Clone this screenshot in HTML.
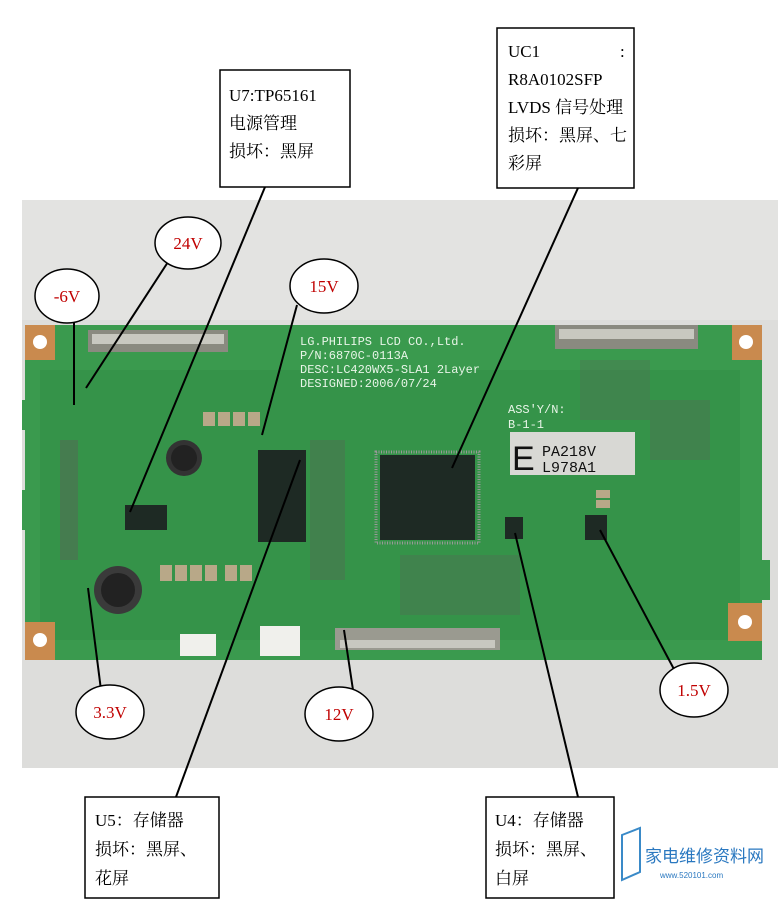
<!DOCTYPE html>
<html><head><meta charset="utf-8"><style>
html,body{margin:0;padding:0;background:#fff;}
body{width:780px;height:902px;overflow:hidden;}
</style></head><body>
<svg width="780" height="902" viewBox="0 0 780 902" xmlns="http://www.w3.org/2000/svg" font-family="Liberation Serif, Noto Serif CJK SC, serif">
<rect width="780" height="902" fill="#fff"/>
<!-- photo background -->
<rect x="22" y="200" width="756" height="568" fill="#dddddb"/>
<rect x="22" y="200" width="756" height="120" fill="#e3e3e1"/>
<!-- PCB -->
<path d="M25 325 H762 V560 H770 V600 H762 V660 H25 V530 H22 V490 H25 V430 H22 V400 H25 Z" fill="#3a9a4e"/>
<rect x="40" y="370" width="700" height="270" fill="#2f8c44" opacity="0.5"/>
<!-- corner pads -->
<rect x="25" y="325" width="30" height="35" fill="#c98a4e"/><circle cx="40" cy="342" r="7" fill="#fff"/>
<rect x="732" y="325" width="30" height="35" fill="#c98a4e"/><circle cx="746" cy="342" r="7" fill="#fff"/>
<rect x="25" y="622" width="30" height="38" fill="#c98a4e"/><circle cx="40" cy="640" r="7" fill="#fff"/>
<rect x="728" y="603" width="34" height="38" fill="#c98a4e"/><circle cx="745" cy="622" r="7" fill="#fff"/>
<!-- connectors -->
<rect x="88" y="330" width="140" height="22" fill="#8a8a80"/><rect x="92" y="334" width="132" height="10" fill="#c8c8c0"/>
<rect x="555" y="325" width="143" height="24" fill="#8a8a80"/><rect x="559" y="329" width="135" height="10" fill="#c8c8c0"/>
<rect x="335" y="628" width="165" height="22" fill="#9a9a90"/><rect x="340" y="640" width="155" height="8" fill="#c8c8c0"/>
<rect x="260" y="626" width="40" height="30" fill="#f0f0ec"/>
<rect x="180" y="634" width="36" height="22" fill="#f0f0ec"/>
<!-- texts on PCB -->
<g fill="#e8f5e8" font-family="Liberation Mono, monospace" font-size="12">
<text x="300" y="345">LG.PHILIPS LCD CO.,Ltd.</text>
<text x="300" y="359">P/N:6870C-0113A</text>
<text x="300" y="373">DESC:LC420WX5-SLA1 2Layer</text>
<text x="300" y="387">DESIGNED:2006/07/24</text>
<text x="508" y="413">ASS'Y/N:</text>
<text x="508" y="428">B-1-1</text>
</g>
<rect x="510" y="432" width="125" height="43" fill="#d8d8d4"/>
<text x="512" y="470" font-family="Liberation Sans, sans-serif" font-size="34" fill="#111">E</text>
<text x="542" y="456" font-family="Liberation Mono, monospace" font-size="15" fill="#111">PA218V</text>
<text x="542" y="472" font-family="Liberation Mono, monospace" font-size="15" fill="#111">L978A1</text>
<!-- chips -->
<rect x="380" y="455" width="95" height="85" fill="#1e2a24"/>
<rect x="376" y="452" width="103" height="91" fill="none" stroke="#999" stroke-width="3" stroke-dasharray="1 1.5"/>
<rect x="258" y="450" width="48" height="92" fill="#1e2a24"/>
<rect x="125" y="505" width="42" height="25" fill="#1e2a24"/>
<rect x="505" y="517" width="18" height="22" fill="#1e2a24"/>
<rect x="585" y="515" width="22" height="25" fill="#1e2a24"/>
<circle cx="184" cy="458" r="18" fill="#333"/><circle cx="184" cy="458" r="13" fill="#222"/>
<circle cx="118" cy="590" r="24" fill="#3a3a3a"/><circle cx="118" cy="590" r="17" fill="#222"/>
<!-- component rows -->
<g fill="#b8a888">
<rect x="203" y="412" width="12" height="14"/><rect x="218" y="412" width="12" height="14"/><rect x="233" y="412" width="12" height="14"/><rect x="248" y="412" width="12" height="14"/>
<rect x="160" y="565" width="12" height="16"/><rect x="175" y="565" width="12" height="16"/><rect x="190" y="565" width="12" height="16"/><rect x="205" y="565" width="12" height="16"/><rect x="225" y="565" width="12" height="16"/><rect x="240" y="565" width="12" height="16"/>
<rect x="596" y="490" width="14" height="8"/><rect x="596" y="500" width="14" height="8"/>
</g>
<g fill="#556655">
<rect x="60" y="440" width="18" height="120" opacity="0.5"/>
<rect x="310" y="440" width="35" height="140" opacity="0.4"/>
<rect x="400" y="555" width="120" height="60" opacity="0.35"/>
<rect x="650" y="400" width="60" height="60" opacity="0.35"/>
<rect x="580" y="360" width="70" height="60" opacity="0.3"/>
</g>
<!-- leader lines -->
<g stroke="#000" stroke-width="2" fill="none">
<line x1="265" y1="187" x2="130" y2="512"/>
<line x1="578" y1="188" x2="452" y2="468"/>
<line x1="176" y1="797" x2="300" y2="460"/>
<line x1="578" y1="797" x2="515" y2="533"/>
<line x1="168" y1="262" x2="86" y2="388"/>
<line x1="74" y1="320" x2="74" y2="405"/>
<line x1="297" y1="305" x2="262" y2="435"/>
<line x1="101" y1="690" x2="88" y2="588"/>
<line x1="353" y1="690" x2="344" y2="630"/>
<line x1="676" y1="673" x2="600" y2="530"/>
</g>
<!-- ellipses -->
<g fill="#fff" stroke="#000" stroke-width="1.5">
<ellipse cx="188" cy="243" rx="33" ry="26"/>
<ellipse cx="67" cy="296" rx="32" ry="27"/>
<ellipse cx="324" cy="286" rx="34" ry="27"/>
<ellipse cx="110" cy="712" rx="34" ry="27"/>
<ellipse cx="339" cy="714" rx="34" ry="27"/>
<ellipse cx="694" cy="690" rx="34" ry="27"/>
</g>
<g fill="#c00000" font-size="17" text-anchor="middle">
<text x="188" y="249">24V</text>
<text x="67" y="302">-6V</text>
<text x="324" y="292">15V</text>
<text x="110" y="718">3.3V</text>
<text x="339" y="720">12V</text>
<text x="694" y="696">1.5V</text>
</g>
<!-- boxes -->
<g fill="#fff" stroke="#000" stroke-width="1.5">
<rect x="220" y="70" width="130" height="117"/>
<rect x="497" y="28" width="137" height="160"/>
<rect x="85" y="797" width="134" height="101"/>
<rect x="486" y="797" width="128" height="101"/>
</g>
<g fill="#000" font-size="17">
<text x="229" y="101">U7:TP65161</text>
<text x="229" y="129">电源管理</text>
<text x="229" y="157">损坏：黑屏</text>
<text x="508" y="57">UC1</text><text x="620" y="57">:</text>
<text x="508" y="85">R8A0102SFP</text>
<text x="508" y="113">LVDS 信号处理</text>
<text x="508" y="141">损坏：黑屏、七</text>
<text x="508" y="169">彩屏</text>
<text x="95" y="826">U5：存储器</text>
<text x="95" y="855">损坏：黑屏、</text>
<text x="95" y="884">花屏</text>
<text x="495" y="826">U4：存储器</text>
<text x="495" y="855">损坏：黑屏、</text>
<text x="495" y="884">白屏</text>
</g>
<!-- watermark -->
<path d="M622 835 V880 L640 872 V828 Z" fill="none" stroke="#3a8ac8" stroke-width="2"/>
<text x="645" y="862" font-family="Liberation Sans, Noto Sans CJK SC, sans-serif" font-size="17" fill="#2a78c0">家电维修资料网</text>
<text x="660" y="878" font-family="Liberation Sans, sans-serif" font-size="8" fill="#2a78c0">www.520101.com</text>
</svg>
</body></html>
